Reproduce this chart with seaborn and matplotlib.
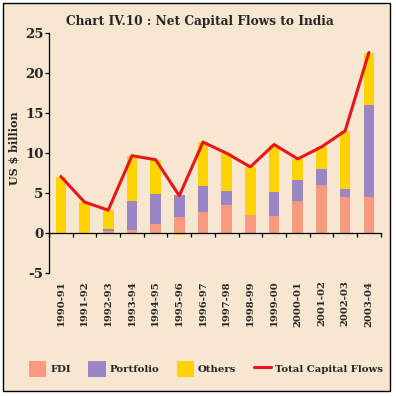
import numpy as np
import pandas as pd
import matplotlib
matplotlib.use("Agg")
import matplotlib.pyplot as plt
from matplotlib.patches import Patch, Rectangle
from matplotlib.lines import Line2D
import seaborn as sns

years = ["1990-91", "1991-92", "1992-93", "1993-94", "1994-95", "1995-96", "1996-97",
         "1997-98", "1998-99", "1999-00", "2000-01", "2001-02", "2002-03", "2003-04"]
fdi = [0.1, 0.1, 0.3, 0.4, 1.2, 2.1, 2.7, 3.5, 2.3, 2.2, 4.0, 6.0, 4.6, 4.6]
portfolio = [0.0, 0.0, 0.2, 3.6, 3.7, 2.7, 3.2, 1.8, -0.1, 3.0, 2.7, 2.0, 1.0, 11.4]
others = [7.0, 3.8, 2.4, 5.7, 4.3, -0.2, 5.5, 4.7, 6.0, 5.9, 2.6, 2.8, 7.2, 6.6]
total = [7.1, 3.9, 2.9, 9.7, 9.2, 4.7, 11.4, 10.0, 8.3, 11.1, 9.3, 10.8, 12.8, 22.6]
yticks = [-5, 0, 5, 10, 15, 20, 25]

series_names = ["FDI", "Portfolio", "Others"]
series_vals = [fdi, portfolio, others]
colors = {"FDI": "#F99A7E", "Portfolio": "#9B86C5", "Others": "#FFD300"}
line_color = "#E8161B"
bg = "#F7E6D0"

sns.set_theme(style="white")
plt.rcParams['font.family'] = ['DejaVu Serif']
plt.rcParams['font.weight'] = 'bold'

fig = plt.figure(figsize=(3.96, 3.96), dpi=100, facecolor="white")
fig.patches.append(Rectangle((3 / 396, 5 / 396), 387 / 396, 388 / 396,
                             transform=fig.transFigure, facecolor=bg,
                             edgecolor="black", lw=1.0, zorder=-10))

ax = fig.add_axes([49 / 396, 1 - 273.3 / 396, 331.7 / 396, 240 / 396])
ax.set_facecolor("none")

x = np.arange(len(years))
pos_base = np.zeros(len(years))
neg_base = np.zeros(len(years))
for name, vals in zip(series_names, series_vals):
    v = np.array(vals, dtype=float)
    bottom = np.where(v >= 0, pos_base, neg_base)
    ax.bar(x, v, bottom=bottom, width=0.45, color=colors[name], linewidth=0, zorder=2)
    pos_base = pos_base + np.where(v > 0, v, 0)
    neg_base = neg_base + np.where(v < 0, v, 0)

df = pd.DataFrame({"pos": x, "total": total})
sns.lineplot(data=df, x="pos", y="total", ax=ax, color=line_color, lw=2.2, zorder=3)

for s in ["top", "right"]:
    ax.spines[s].set_visible(False)
ax.spines["bottom"].set_position(("data", 0))
ax.spines["bottom"].set_color("black")
ax.spines["left"].set_color("black")
ax.spines["bottom"].set_linewidth(0.9)
ax.spines["left"].set_linewidth(0.9)

ax.set_xlim(-0.5, 13.5)
ax.set_ylim(-5, 25)
ax.set_xticks(x)
ax.set_xticks(np.arange(-0.5, 13.6, 1), minor=True)
ax.set_yticks(yticks)
ax.tick_params(axis="y", direction="out", length=3, width=0.9, pad=1, left=True,
               color="black", labelsize=9.5)
ax.tick_params(axis="x", which="major", length=0, pad=34, labelrotation=90, labelsize=7.2)
ax.tick_params(axis="x", which="minor", direction="out", length=3, width=0.9,
               bottom=True, color="black")
ax.set_xticklabels(years, rotation=90, fontsize=7.2, fontweight="bold", va="top")
ax.set_yticklabels([str(t) for t in yticks], fontsize=9.5, fontweight="bold")

ax.set_xlabel("")
ax.set_ylabel(r"US \$ billion", fontsize=8, fontweight="bold")
ax.yaxis.set_label_coords(-0.09, 0.52)

fig.text(0.505, 1 - 22 / 396, "Chart IV.10 : Net Capital Flows to India",
         ha="center", va="center", fontsize=8.7, fontweight="bold")

handles = [Patch(facecolor=colors[n], edgecolor="none") for n in series_names]
handles.append(Line2D([0], [0], color=line_color, lw=2.2))
labels = series_names + ["Total Capital Flows"]
fig.legend(handles, labels, loc="center", bbox_to_anchor=(0.52, 1 - 369 / 396), ncol=4,
           frameon=False, prop={"size": 7.3, "weight": "bold"}, handlelength=1.7,
           handleheight=1.9, handletextpad=0.4, columnspacing=1.7)

fig.savefig("out.png", dpi=100, facecolor="white")
